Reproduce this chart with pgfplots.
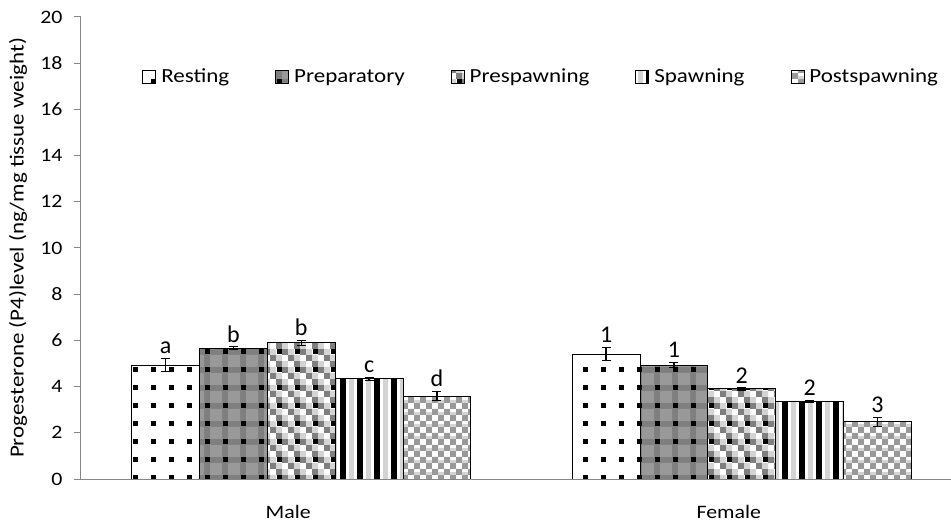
\documentclass[border=0pt]{standalone}
\usepackage{fontspec}
\setmainfont{Carlito}[FakeStretch=1.15]
\newfontfamily\annfont{Carlito}
\usepackage{pgfplots}
\usepackage{pgfplotstable}
\pgfplotsset{compat=1.18}
\usetikzlibrary{patterns}

\definecolor{axgray}{HTML}{868686}
\definecolor{mgray}{HTML}{7F7F7F}
\definecolor{lgray}{HTML}{D4D4D4}
\definecolor{pgray}{HTML}{999999}

\pgfdeclarepatterninherentlycolored{resting}{\pgfpoint{-0.5bp}{-0.5bp}}{\pgfpoint{18.5bp}{18.5bp}}{\pgfpoint{18bp}{18bp}}{%
 \pgfsetfillcolor{white}\pgfpathrectangle{\pgfpoint{-0.5bp}{-0.5bp}}{\pgfpoint{19bp}{19bp}}\pgfusepath{fill}%
 \pgfsetfillcolor{black}\pgfpathrectangle{\pgfpoint{6.5bp}{6.5bp}}{\pgfpoint{5bp}{5bp}}\pgfusepath{fill}}

\pgfdeclarepatterninherentlycolored{preparatory}{\pgfpoint{-0.5bp}{-0.5bp}}{\pgfpoint{18.5bp}{18.5bp}}{\pgfpoint{18bp}{18bp}}{%
 \pgfsetfillcolor{mgray}\pgfpathrectangle{\pgfpoint{-0.5bp}{-0.5bp}}{\pgfpoint{19bp}{19bp}}\pgfusepath{fill}%
 \pgfsetfillcolor{pgray}%
 \pgfpathrectangle{\pgfpoint{0bp}{0bp}}{\pgfpoint{6bp}{6bp}}%
 \pgfpathrectangle{\pgfpoint{12bp}{0bp}}{\pgfpoint{6bp}{6bp}}%
 \pgfpathrectangle{\pgfpoint{0bp}{12bp}}{\pgfpoint{6bp}{6bp}}%
 \pgfpathrectangle{\pgfpoint{12bp}{12bp}}{\pgfpoint{6bp}{6bp}}\pgfusepath{fill}%
 \pgfsetfillcolor{black}\pgfpathrectangle{\pgfpoint{6.5bp}{6.5bp}}{\pgfpoint{5bp}{5bp}}\pgfusepath{fill}}

\pgfdeclarepatterninherentlycolored{prespawning}{\pgfpoint{-0.5bp}{-0.5bp}}{\pgfpoint{18.5bp}{18.5bp}}{\pgfpoint{18bp}{18bp}}{%
 \pgfsetfillcolor{white}\pgfpathrectangle{\pgfpoint{-0.5bp}{-0.5bp}}{\pgfpoint{19bp}{19bp}}\pgfusepath{fill}%
 \pgfsetfillcolor{mgray}%
 \pgfpathrectangle{\pgfpoint{0bp}{0bp}}{\pgfpoint{6bp}{6bp}}%
 \pgfpathrectangle{\pgfpoint{12bp}{6bp}}{\pgfpoint{6bp}{6bp}}%
 \pgfpathrectangle{\pgfpoint{6bp}{12bp}}{\pgfpoint{6bp}{6bp}}\pgfusepath{fill}%
 \pgfsetfillcolor{lgray}%
 \pgfpathrectangle{\pgfpoint{6bp}{0bp}}{\pgfpoint{6bp}{6bp}}%
 \pgfpathrectangle{\pgfpoint{0bp}{6bp}}{\pgfpoint{6bp}{6bp}}%
 \pgfpathrectangle{\pgfpoint{12bp}{12bp}}{\pgfpoint{6bp}{6bp}}\pgfusepath{fill}%
 \pgfsetfillcolor{black}\pgfpathrectangle{\pgfpoint{6.5bp}{6.5bp}}{\pgfpoint{5bp}{5bp}}\pgfusepath{fill}}

\pgfdeclarepatterninherentlycolored{spawning}{\pgfpoint{-0.5bp}{-0.5bp}}{\pgfpoint{17.5bp}{17.5bp}}{\pgfpoint{17bp}{17bp}}{%
 \pgfsetfillcolor{white}\pgfpathrectangle{\pgfpoint{-0.5bp}{-0.5bp}}{\pgfpoint{18bp}{18bp}}\pgfusepath{fill}%
 \pgfsetfillcolor{black}\pgfpathrectangle{\pgfpoint{0bp}{-0.5bp}}{\pgfpoint{6bp}{18bp}}\pgfusepath{fill}%
 \pgfsetfillcolor{lgray}\pgfpathrectangle{\pgfpoint{9bp}{-0.5bp}}{\pgfpoint{5bp}{18bp}}\pgfusepath{fill}}

\pgfdeclarepatterninherentlycolored{postspawning}{\pgfpoint{-0.5bp}{-0.5bp}}{\pgfpoint{12.5bp}{12.5bp}}{\pgfpoint{12bp}{12bp}}{%
 \pgfsetfillcolor{white}\pgfpathrectangle{\pgfpoint{-0.5bp}{-0.5bp}}{\pgfpoint{13bp}{13bp}}\pgfusepath{fill}%
 \pgfsetfillcolor{pgray}%
 \pgfpathrectangle{\pgfpoint{0bp}{0bp}}{\pgfpoint{6bp}{6bp}}%
 \pgfpathrectangle{\pgfpoint{6bp}{6bp}}{\pgfpoint{6bp}{6bp}}\pgfusepath{fill}%
 \pgfsetfillcolor{lgray}\pgfpathrectangle{\pgfpoint{6bp}{0bp}}{\pgfpoint{6bp}{3bp}}\pgfusepath{fill}}

% x: category, y: mean, err: error, top: mean + error, lab: letter
\pgfplotstableread{
x y err top lab
0 4.93 0.28 5.21 a
1 5.41 0.29 5.70 1
}\resting
\pgfplotstableread{
x y err top lab
0 5.67 0.05 5.72 b
1 4.93 0.12 5.05 1
}\preparatory
\pgfplotstableread{
x y err top lab
0 5.89 0.10 5.99 b
1 3.90 0.05 3.95 2
}\prespawning
\pgfplotstableread{
x y err top lab
0 4.33 0.05 4.38 c
1 3.36 0.05 3.41 2
}\spawning
\pgfplotstableread{
x y err top lab
0 3.59 0.20 3.79 d
1 2.47 0.20 2.67 3
}\postspawning

\pgfplotsset{
 mybar/.style={draw=black, line width=1bp, pattern=#1,
   error bars/y dir=both, error bars/y explicit,
   error bars/error bar style={black, line width=1.2bp},
   error bars/error mark options={rotate=90, mark size=4.5bp, line width=1.2bp, black},
   legend image code/.code={\draw[pattern=#1, draw=black, line width=0.9bp] (0bp,-6.5bp) rectangle (13bp,6.5bp);}},
 letters/.style={draw=none, fill=none, forget plot, point meta=explicit symbolic,
   nodes near coords,
   every node near coord/.append style={anchor=south, inner sep=1.5bp, yshift=3bp, text=black,
     font=\annfont\fontsize{24bp}{26bp}\selectfont}},
}

\begin{document}
\begin{tikzpicture}
\begin{axis}[
 at={(0,0)}, anchor=south west,
 scale only axis, width=870bp, height=462bp,
 ybar, bar width=0.154,
 xmin=-0.5, xmax=1.475, ymin=0, ymax=20,
 axis lines*=left,
 axis line style={draw=axgray, line width=1bp},
 xtick={0,1}, xticklabels={Male,Female},
 x tick style={draw=none},
 ytick={0,2,...,20},
 y tick style={draw=axgray, line width=1bp},
 tick align=outside, major tick length=7bp,
 tick label style={font=\fontsize{19bp}{22bp}\selectfont},
 /pgf/number format/assume math mode=true,
 xticklabel style={xshift=-13bp, yshift=-16bp},
 yticklabel style={xshift=-8bp},
 ylabel={Progesterone (P4)level (ng/mg tissue weight)},
 ylabel style={font=\fontsize{20bp}{22bp}\selectfont, at={(axis description cs:-0.0724,0.5)}, anchor=center},
 legend columns=5,
 legend style={draw=none, fill=none, at={(axis description cs:0.529,0.871)}, anchor=center,
   font=\fontsize{20bp}{22bp}\selectfont,
   /tikz/every odd column/.append style={column sep=3bp},
   /tikz/every even column/.append style={column sep=44bp}},
]
\addplot+[mybar=resting, bar shift=-0.308] table[x=x, y=y, y error=err]{\resting};
\addlegendentry{Resting}
\addplot+[mybar=preparatory, bar shift=-0.154] table[x=x, y=y, y error=err]{\preparatory};
\addlegendentry{Preparatory}
\addplot+[mybar=prespawning, bar shift=0] table[x=x, y=y, y error=err]{\prespawning};
\addlegendentry{Prespawning}
\addplot+[mybar=spawning, bar shift=0.154] table[x=x, y=y, y error=err]{\spawning};
\addlegendentry{Spawning}
\addplot+[mybar=postspawning, bar shift=0.308] table[x=x, y=y, y error=err]{\postspawning};
\addlegendentry{Postspawning}

\addplot[letters, bar shift=-0.308] table[x=x, y=top, meta=lab]{\resting};
\addplot[letters, bar shift=-0.154] table[x=x, y=top, meta=lab]{\preparatory};
\addplot[letters, bar shift=0] table[x=x, y=top, meta=lab]{\prespawning};
\addplot[letters, bar shift=0.154] table[x=x, y=top, meta=lab]{\spawning};
\addplot[letters, bar shift=0.308] table[x=x, y=top, meta=lab]{\postspawning};
\end{axis}
\pgfresetboundingbox
\path[use as bounding box] (-81bp,-44bp) rectangle (870bp,479bp);
\end{tikzpicture}
\end{document}
